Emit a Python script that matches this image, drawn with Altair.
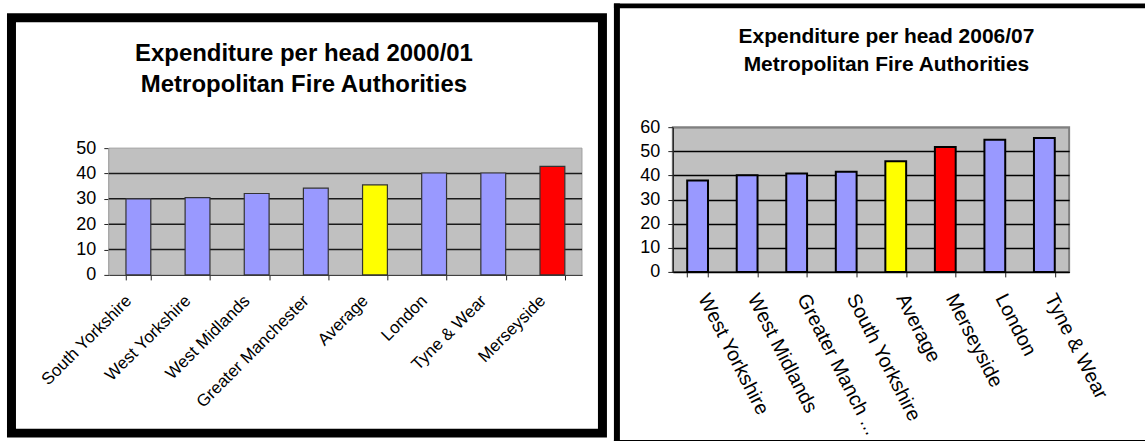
import altair as alt
import pandas as pd

FONT = "Liberation Sans"

# Spending per head, 2000/01
areas_2000 = ["South Yorkshire", "West Yorkshire", "West Midlands", "Greater Manchester",
              "Average", "London", "Tyne & Wear", "Merseyside"]
spend_2000 = [30.0, 30.5, 32.1, 34.2, 35.5, 40.2, 40.2, 42.8]
ticks_2000 = [0, 10, 20, 30, 40, 50]
title_2000 = ["Expenditure per head 2000/01", "Metropolitan Fire Authorities"]

# Spending per head, 2006/07
areas_2006 = ["West Yorkshire", "West Midlands", "Greater Manchester", "South Yorkshire",
              "Average", "Merseyside", "London", "Tyne & Wear"]
spend_2006 = [37.9, 40.1, 40.8, 41.5, 45.9, 51.8, 54.8, 55.5]
ticks_2006 = [0, 10, 20, 30, 40, 50, 60]
title_2006 = ["Expenditure per head 2006/07", "Metropolitan Fire Authorities"]

GROUP_EXPR = ("datum.area === 'Average' ? 'average' : "
              "datum.area === 'Merseyside' ? 'merseyside' : 'other'")
colour = alt.Color(
    "group:N",
    scale=alt.Scale(domain=["other", "average", "merseyside"],
                    range=["#9999FF", "#FFFF00", "#FF0000"]),
    legend=None,
)
band = alt.Scale(paddingInner=0.58, paddingOuter=0.29)

one_row = alt.Data(values=[{}])


def title_text(lines, cx, y, size, line_h):
    return alt.Chart(one_row).mark_text(
        font=FONT, fontSize=size, fontWeight="bold", align="center",
        baseline="alphabetic", lineHeight=line_h, color="black",
    ).encode(x=alt.value(cx), y=alt.value(y), text=alt.value(lines))


def block(x, x2, y, y2):
    return alt.Chart(one_row).mark_rect(fill="black").encode(
        x=alt.value(x), x2=alt.value(x2), y=alt.value(y), y2=alt.value(y2))


# ---------------- left panel: 2000/01 ----------------
# The panel group is 148 px tall; the value scale only uses its lower 127 px,
# so the plot sits lower than the one on the right.
L_W, L_H, L_TOP = 474, 148, 21
y_scale_2000 = alt.Scale(domain=[0, 50], range=[L_H, L_TOP], nice=False)
y_axis_2000 = alt.Axis(
    values=ticks_2000, title=None, grid=False,
    domainColor="#222222", domainWidth=1.2, tickColor="#222222", tickSize=5,
    labelPadding=8, labelFont=FONT, labelFontSize=18, labelColor="black",
)
x_axis_2000 = alt.Axis(
    title=None, tickBand="extent", labelAngle=-45, labelAlign="right",
    labelBaseline="middle", labelPadding=18, labelOffset=-10,
    labelFont=FONT, labelFontSize=17, labelColor="black",
    domainColor="black", domainWidth=1.2, tickColor="#222222", tickSize=5,
)

df_2000 = pd.DataFrame({"area": areas_2000, "spend": spend_2000})
grid_2000 = pd.DataFrame({"spend": ticks_2000[1:-1]})

left_frame = alt.Chart(one_row).mark_rect(
    fill="white", fillOpacity=0, stroke="black", strokeWidth=9
).encode(x=alt.value(-97.5), x2=alt.value(494.5),
         y=alt.value(-109.5), y2=alt.value(306.5))

left_plot_bg = alt.Chart(one_row).mark_rect(
    fill="#C0C0C0", stroke="#a0a0a0", strokeWidth=1
).encode(x=alt.value(0), x2=alt.value(L_W), y=alt.value(L_TOP), y2=alt.value(L_H))

left_grid = alt.Chart(grid_2000).mark_rule(color="#1a1a1a", strokeWidth=1.5).encode(
    y=alt.Y("spend:Q", scale=y_scale_2000, axis=y_axis_2000),
    x=alt.value(0), x2=alt.value(L_W),
)

left_bars = (
    alt.Chart(df_2000)
    .transform_calculate(group=GROUP_EXPR)
    .mark_bar(stroke="#333333", strokeWidth=1.2)
    .encode(
        x=alt.X("area:N", sort=areas_2000, scale=band, axis=x_axis_2000),
        y=alt.Y("spend:Q", scale=y_scale_2000, axis=y_axis_2000),
        color=colour,
    )
)

left = alt.layer(
    left_frame,
    title_text(title_2000, 195.5, -66, 24, 30.5),
    left_plot_bg,
    left_grid,
    left_bars,
).properties(
    width=L_W, height=L_H,
    view=alt.ViewBackground(fill="white", fillOpacity=0, strokeOpacity=0),
)

# ---------------- right panel: 2006/07 ----------------
x_axis_2006 = alt.Axis(
    title=None, tickBand="extent", labelAngle=63, labelAlign="left",
    labelBaseline="middle", labelPadding=18, labelOffset=5,
    labelFont=FONT, labelFontSize=20, labelColor="black",
    labelExpr="datum.label === 'Greater Manchester' ? 'Greater Manch ...' : datum.label",
    domainColor="black", domainWidth=1.2, tickColor="#222222", tickSize=5,
)
y_axis_2006 = alt.Axis(
    values=ticks_2006, title=None, grid=True,
    gridColor={"condition": {"test": "datum.value === 60", "value": "#808080"},
               "value": "black"},
    gridWidth=1.5,
    domainColor="#222222", domainWidth=1.2, tickColor="#222222", tickSize=5,
    labelPadding=8, labelFont=FONT, labelFontSize=18, labelColor="black",
)

df_2006 = pd.DataFrame({"area": areas_2006, "spend": spend_2006})
right_bars = (
    alt.Chart(df_2006)
    .transform_calculate(group=GROUP_EXPR)
    .mark_bar(stroke="black", strokeWidth=2)
    .encode(
        x=alt.X("area:N", sort=areas_2006, scale=band, axis=x_axis_2006),
        y=alt.Y("spend:Q", scale=alt.Scale(domain=[0, 60], nice=False), axis=y_axis_2006),
        color=colour,
    )
)

right = alt.layer(
    block(-59, -53, -124, 315),
    block(-59, 473, -124, -119),
    block(-59, 473, 313.5, 315),
    title_text(title_2006, 214, -84, 21, 28),
    right_bars,
).properties(
    width=397, height=145,
    view=alt.ViewBackground(fill="#C0C0C0", stroke="#808080", strokeWidth=2),
)

chart = alt.hconcat(left, right, spacing=6).properties(
    padding={"left": 7, "top": 2, "right": 0, "bottom": 0},
    background="white",
)

chart.save("out.html", embed_options={"renderer": "svg", "actions": False})
